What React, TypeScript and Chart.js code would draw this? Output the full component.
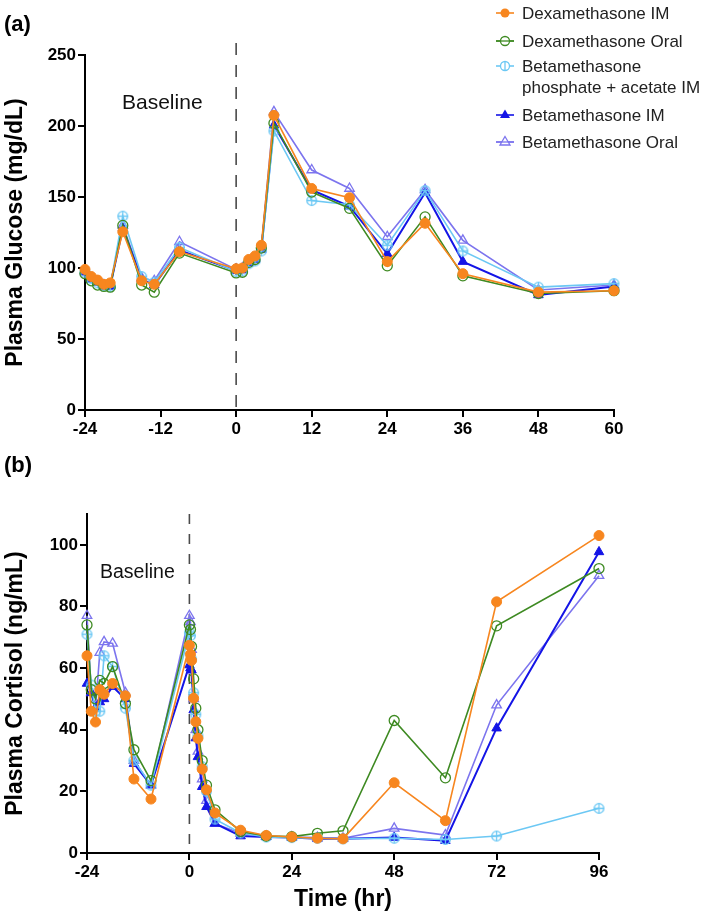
import React, { useEffect, useRef } from 'react';
import { Chart, registerables } from 'chart.js';

Chart.register(...registerables);

const FONT = '"Liberation Sans", Arial, Helvetica, sans-serif';

// ---------- Data: panel (a) plasma glucose ----------
const glucoseTimes = [-24, -23, -22, -21, -20, -18, -15, -13, -9, 0, 1, 2, 3, 4, 6, 12, 18, 24, 30, 36, 48, 60];
const glucoseDexIM = [99, 94, 91.5, 88.5, 89.5, 125.5, 91, 88.5, 111.5, 99.5, 100, 106, 108.5, 116, 207.5, 156, 149.5, 104.5, 131.5, 96, 83, 84];
const glucoseDexOral = [96, 91, 88, 87, 86.5, 130, 88, 83, 110.5, 96.5, 97, 104, 106, 114, 202, 153.5, 142, 101.5, 136, 94.5, 82, 84];
const glucoseBetaPA = [97, 92.5, 89.5, 87.5, 87, 136.5, 94, 90, 114.5, 97.5, 98, 103, 105, 112, 196.5, 147.5, 144.5, 116, 154.5, 112, 86.5, 89];
const glucoseBetaIM = [97, 92, 90, 87, 87, 128, 92, 88, 112.5, 98, 98.5, 103.5, 106, 113, 200.5, 155, 143.5, 110, 153, 104.5, 81, 87];
const glucoseBetaOral = [98, 93, 90, 88, 88, 130, 93, 91, 118.5, 99, 100, 105, 107, 114, 210, 169, 156, 122, 155, 119.5, 84.5, 88];

// ---------- Data: panel (b) plasma cortisol ----------
const cortisolTimes = [-24, -23, -22, -21, -20, -18, -15, -13, -9, 0, 0.25, 0.5, 1, 1.5, 2, 3, 4, 6, 12, 18, 24, 30, 36, 48, 60, 72, 96];
const cortisolDexIM = [64, 46, 42.5, 53, 51.5, 55, 51, 24, 17.5, 67.4, 64.5, 62.5, 50.2, 42.6, 37.2, 27.2, 20.5, 13, 7.4, 5.7, 5.2, 4.8, 4.6, 22.8, 10.5, 81.5, 103];
const cortisolDexOral = [74, 53, 50, 56, 55, 60.5, 48.5, 33.5, 23.5, 74, 72.5, 67, 56.5, 47, 40, 30, 22, 14, 7, 5.5, 5.3, 6.4, 7.2, 43, 24.4, 73.7, 92.3];
const cortisolBetaPA = [71, 54.5, 46, 46, 64, 60.5, 47, 30, 22, 71.5, 70.5, 63, 52, 45, 38, 28, 20, 11, 6.5, 5.2, 5, 4.8, 4.6, 4.8, 4.4, 5.5, 14.5];
const cortisolBetaIM = [55, 52, 47, 49, 50, 54, 50, 29, 22, 61, 60, 59.3, 46.4, 37.3, 31.2, 21.5, 15, 9.6, 5.5, 5.2, 5, 4.6, 4.6, 5, 4, 40.5, 97.7];
const cortisolBetaOral = [77, 52, 47, 65, 68.5, 68, 52, 30, 22, 77, 75, 66, 50, 40, 33, 24, 17, 9.5, 6.4, 5.4, 5.2, 5, 4.8, 8, 5.8, 48, 90];

// ---------- Ticks & labels ----------
const glucoseXTicks = [-24, -12, 0, 12, 24, 36, 48, 60];
const glucoseYTicks = [0, 50, 100, 150, 200, 250];
const cortisolXTicks = [-24, 0, 24, 48, 72, 96];
const cortisolYTicks = [0, 20, 40, 60, 80, 100];
const seriesNames = ['Dexamethasone IM', 'Dexamethasone Oral', 'Betamethasone\nphosphate + acetate IM', 'Betamethasone IM', 'Betamethasone Oral'];

// ---------- Styles ----------
const COLORS = ['#F7861F', '#3E8A22', '#6CC8F4', '#1414E6', '#7C74EE'];

function makeCrossCircle(color: string) {
  const c = document.createElement('canvas');
  c.width = 13;
  c.height = 13;
  const ctx = c.getContext('2d')!;
  ctx.strokeStyle = color;
  ctx.lineWidth = 1.3;
  ctx.beginPath();
  ctx.arc(6.5, 6.5, 4.8, 0, Math.PI * 2);
  ctx.stroke();
  ctx.beginPath();
  ctx.moveTo(6.5, 1);
  ctx.lineTo(6.5, 12);
  ctx.moveTo(1, 6.5);
  ctx.lineTo(12, 6.5);
  ctx.stroke();
  return c;
}

function pointStyleFor(i: number): any {
  switch (i) {
    case 0: return { pointStyle: 'circle', pointRadius: 5, pointBackgroundColor: COLORS[0], pointBorderColor: COLORS[0], pointBorderWidth: 1 };
    case 1: return { pointStyle: 'circle', pointRadius: 5, pointBackgroundColor: 'rgba(255,255,255,0)', pointBorderColor: COLORS[1], pointBorderWidth: 1.3 };
    case 2: return { pointStyle: makeCrossCircle(COLORS[2]), pointRadius: 5 };
    case 3: return { pointStyle: 'triangle', pointRadius: 5.5, pointBackgroundColor: COLORS[3], pointBorderColor: COLORS[3], pointBorderWidth: 1 };
    default: return { pointStyle: 'triangle', pointRadius: 5.5, pointBackgroundColor: 'rgba(255,255,255,0)', pointBorderColor: COLORS[4], pointBorderWidth: 1.3 };
  }
}

function makeDatasets(times: number[], series: number[][]) {
  return series.map((vals, i) => ({
    label: seriesNames[i],
    data: times.map((t, j) => ({ x: t, y: vals[j] })),
    borderColor: COLORS[i],
    backgroundColor: COLORS[i],
    borderWidth: i === 3 ? 2 : 1.6,
    tension: 0,
    clip: false as any,
    ...pointStyleFor(i),
  }));
}

function zeroLinePlugin(ext: number, dash: number[]) {
  return {
    id: 'zeroLine',
    beforeDatasetsDraw(chart: any) {
      const { ctx, chartArea, scales } = chart;
      const x = scales.x.getPixelForValue(0);
      ctx.save();
      ctx.strokeStyle = '#4a4a4a';
      ctx.lineWidth = 1.6;
      ctx.setLineDash(dash);
      ctx.beginPath();
      ctx.moveTo(x, chartArea.top - ext);
      ctx.lineTo(x, chartArea.bottom);
      ctx.stroke();
      ctx.restore();
    },
  };
}

function axisCommon() {
  return {
    grid: { display: true, drawOnChartArea: false, drawTicks: true, tickLength: 7, color: '#000', lineWidth: 2 },
    border: { display: true, color: '#000', width: 2 },
  };
}

function buildConfig(opts: {
  datasets: any[];
  xMin: number; xMax: number; xTicks: number[];
  yMin: number; yMax: number; yTicks: number[];
  yTitle: string; xTitle?: string;
  yWidth: number; xHeight: number;
  padding: any;
  ext: number; dash: number[];
}) {
  return {
    type: 'line' as const,
    data: { datasets: opts.datasets },
    options: {
      responsive: false,
      animation: false as const,
      devicePixelRatio: 1,
      layout: { padding: opts.padding },
      plugins: { legend: { display: false }, tooltip: { enabled: false } },
      scales: {
        x: {
          type: 'linear' as const,
          min: opts.xMin,
          max: opts.xMax,
          afterBuildTicks: (s: any) => { s.ticks = opts.xTicks.map((v) => ({ value: v })); },
          afterFit: (s: any) => { s.height = opts.xHeight; },
          ...axisCommon(),
          ticks: { color: '#000', padding: 2, maxRotation: 0, autoSkip: false, font: { family: FONT, size: 17, weight: 'bold' as const } },
          title: opts.xTitle
            ? { display: true, text: opts.xTitle, color: '#000', font: { family: FONT, size: 23, weight: 'bold' as const }, padding: { top: 0, bottom: 6 } }
            : { display: false },
        },
        y: {
          type: 'linear' as const,
          min: opts.yMin,
          max: opts.yMax,
          afterBuildTicks: (s: any) => { s.ticks = opts.yTicks.map((v) => ({ value: v })); },
          afterFit: (s: any) => { s.width = opts.yWidth; },
          ...axisCommon(),
          ticks: { color: '#000', padding: 2, autoSkip: false, font: { family: FONT, size: 17, weight: 'bold' as const } },
          title: { display: true, text: opts.yTitle, color: '#000', font: { family: FONT, size: 23, weight: 'bold' as const }, padding: { top: 2, bottom: 0 } },
        },
      },
    },
    plugins: [zeroLinePlugin(opts.ext, opts.dash)],
  };
}

function LegendMarker({ i }: { i: number }) {
  const c = COLORS[i];
  let marker: React.ReactNode = null;
  if (i === 0) marker = <circle cx={9} cy={8} r={4.5} fill={c} />;
  if (i === 1) marker = <circle cx={9} cy={8} r={4.5} fill="white" stroke={c} strokeWidth={1.3} />;
  if (i === 2) marker = (
    <g stroke={c} strokeWidth={1.3} fill="white">
      <circle cx={9} cy={8} r={4.5} />
      <line x1={9} y1={3} x2={9} y2={13} />
    </g>
  );
  if (i === 3) marker = <polygon points="9,2.5 14,11 4,11" fill={c} />;
  if (i === 4) marker = <polygon points="9,2.5 14,11 4,11" fill="white" stroke={c} strokeWidth={1.3} />;
  return (
    <svg width={18} height={16} style={{ position: 'absolute', left: 0, top: 2 }}>
      <line x1={0} y1={8} x2={18} y2={8} stroke={c} strokeWidth={1.6} />
      {marker}
      {i === 1 || i === 4 ? <line x1={0} y1={8} x2={18} y2={8} stroke={c} strokeWidth={1.3} /> : null}
    </svg>
  );
}

export default function App() {
  const refA = useRef<HTMLCanvasElement>(null);
  const refB = useRef<HTMLCanvasElement>(null);

  useEffect(() => {
    const chartA = new Chart(refA.current!, buildConfig({
      datasets: makeDatasets(glucoseTimes, [glucoseDexIM, glucoseDexOral, glucoseBetaPA, glucoseBetaIM, glucoseBetaOral]),
      xMin: -24, xMax: 60, xTicks: glucoseXTicks,
      yMin: 0, yMax: 250, yTicks: glucoseYTicks,
      yTitle: 'Plasma Glucose (mg/dL)',
      yWidth: 85, xHeight: 40,
      padding: { top: 55, right: 95, bottom: 0, left: 0 },
      ext: 12, dash: [12, 10],
    }) as any);
    const chartB = new Chart(refB.current!, buildConfig({
      datasets: makeDatasets(cortisolTimes, [cortisolDexIM, cortisolDexOral, cortisolBetaPA, cortisolBetaIM, cortisolBetaOral]),
      xMin: -24, xMax: 96, xTicks: cortisolXTicks,
      yMin: 0, yMax: 110, yTicks: cortisolYTicks,
      yTitle: 'Plasma Cortisol (ng/mL)', xTitle: 'Time (hr)',
      yWidth: 87, xHeight: 66,
      padding: { top: 64, right: 110, bottom: 0, left: 0 },
      ext: 0, dash: [10, 10],
    }) as any);
    return () => {
      chartA.destroy();
      chartB.destroy();
    };
  }, []);

  const legendRows = [
    { i: 0, top: 3 },
    { i: 1, top: 31 },
    { i: 2, top: 56 },
    { i: 3, top: 105 },
    { i: 4, top: 132 },
  ];

  return (
    <div style={{ position: 'absolute', left: 0, top: 0, width: 709, height: 919, background: '#fff', fontFamily: FONT, overflow: 'hidden' }}>
      <canvas ref={refA} width={709} height={450} style={{ position: 'absolute', left: 0, top: 0, width: 709, height: 450 }} />
      <canvas ref={refB} width={709} height={469} style={{ position: 'absolute', left: 0, top: 450, width: 709, height: 469 }} />
      <div style={{ position: 'absolute', left: 4, top: 11, fontSize: 22, fontWeight: 'bold', color: '#000', lineHeight: '26px' }}>(a)</div>
      <div style={{ position: 'absolute', left: 4, top: 452, fontSize: 22, fontWeight: 'bold', color: '#000', lineHeight: '26px' }}>(b)</div>
      <div style={{ position: 'absolute', left: 122, top: 89, fontSize: 21, color: '#111', lineHeight: '26px' }}>Baseline</div>
      <div style={{ position: 'absolute', left: 100, top: 559, fontSize: 19.5, color: '#111', lineHeight: '24px' }}>Baseline</div>
      {legendRows.map((r) => (
        <div key={r.i} style={{ position: 'absolute', left: 496, top: r.top, width: 213 }}>
          <LegendMarker i={r.i} />
          <div style={{ marginLeft: 26, fontSize: 17, lineHeight: '21px', color: '#222', whiteSpace: 'pre' }}>{seriesNames[r.i]}</div>
        </div>
      ))}
    </div>
  );
}
